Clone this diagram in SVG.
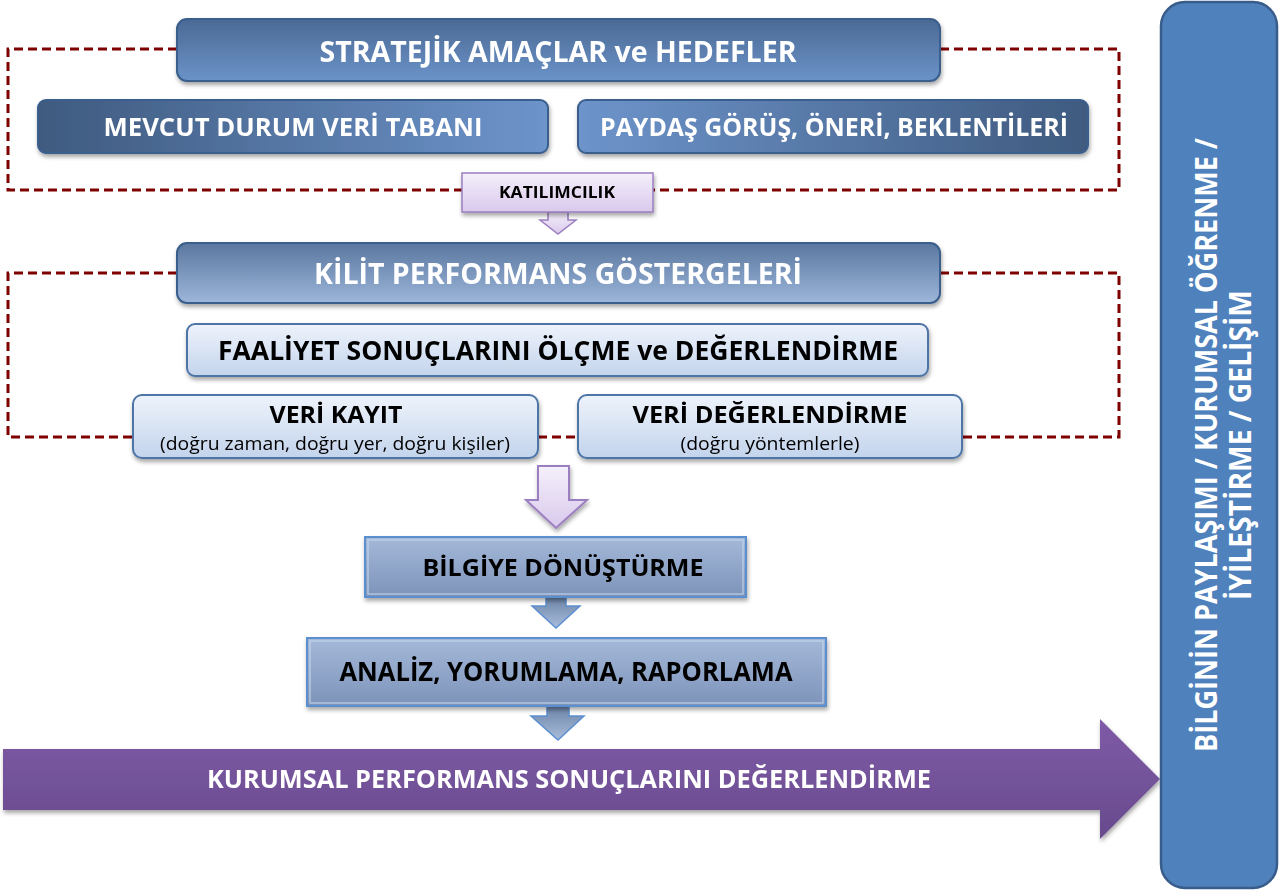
<svg xmlns="http://www.w3.org/2000/svg" width="1280" height="895" viewBox="0 0 1280 895">
<defs>
<linearGradient id="gTop" x1="0" y1="0" x2="0" y2="1"><stop offset="0" stop-color="#4b6994"/><stop offset="1" stop-color="#6b93c9"/></linearGradient>
<linearGradient id="gKpi" x1="0" y1="0" x2="0" y2="1"><stop offset="0" stop-color="#5a779f"/><stop offset="1" stop-color="#9db6da"/></linearGradient>
<linearGradient id="gLR" x1="0" y1="0" x2="1" y2="0"><stop offset="0" stop-color="#3f5a7f"/><stop offset="1" stop-color="#6d94cb"/></linearGradient>
<linearGradient id="gRL" x1="0" y1="0" x2="1" y2="0"><stop offset="0" stop-color="#6d94cb"/><stop offset="1" stop-color="#3f5a7f"/></linearGradient>
<linearGradient id="gLight" x1="0" y1="0" x2="0" y2="1"><stop offset="0" stop-color="#eef3fb"/><stop offset="1" stop-color="#c3d4ec"/></linearGradient>
<linearGradient id="gLav" x1="0" y1="0" x2="0" y2="1"><stop offset="0" stop-color="#f5f0fb"/><stop offset="1" stop-color="#d9c9ec"/></linearGradient>
<linearGradient id="gBevel" x1="0" y1="0" x2="0" y2="1"><stop offset="0" stop-color="#a4b9d9"/><stop offset="1" stop-color="#7d93b9"/></linearGradient>
<linearGradient id="gSmall" x1="0" y1="0" x2="0" y2="1"><stop offset="0" stop-color="#6c84a8"/><stop offset="1" stop-color="#a9bddb"/></linearGradient>
<linearGradient id="gBig" x1="0" y1="0" x2="0" y2="1"><stop offset="0" stop-color="#7f5ba7"/><stop offset="1" stop-color="#684a8d"/></linearGradient>
<filter id="sh" x="-5%" y="-20%" width="110%" height="150%"><feDropShadow dx="1" dy="3" stdDeviation="2" flood-color="#000" flood-opacity="0.35"/></filter>
</defs>
<style>
.w{fill:#fff;font-family:"Liberation Sans Narrow","Open Sans","Liberation Sans",sans-serif;font-weight:bold;text-anchor:middle}
.k{fill:#000;font-family:"Open Sans","Liberation Sans",sans-serif;font-weight:bold;text-anchor:middle}
.n{fill:#000;font-family:"Open Sans","Liberation Sans",sans-serif;text-anchor:middle}
.dash{fill:none;stroke:#7f0000;stroke-width:3;stroke-dasharray:9 5}
.bx{stroke:#3a5e8c;stroke-width:2}
.bl{stroke:#4d74a6;stroke-width:2}
</style>
<g id="connectors">
<path class="dash" d="M177,49 H8 V190 H462"/>
<path class="dash" d="M940,49 H1119 V190 H653"/>
<path class="dash" d="M177,273 H8 V437 H133"/>
<path class="dash" d="M940,273 H1119 V437 H962"/>
<path class="dash" d="M538,437 H578"/>
<path d="M548,212 H568 V220 H576 L558,234 L540,220 H548 Z" fill="url(#gLav)" stroke="#9b7fc0" stroke-width="1.5"/>
<path d="M538,466 H569 V500 H587 L556,528 L526,500 H538 Z" fill="url(#gLav)" stroke="#9b7fc0" stroke-width="2" filter="url(#sh)"/>
<path d="M546,597 H566 V606 H580 L556,628 L532,606 H546 Z" fill="url(#gSmall)" stroke="#5b8fd0" stroke-width="1.5"/>
<path d="M547,706 H569 V716 H584 L558,740 L531,716 H547 Z" fill="url(#gSmall)" stroke="#5b8fd0" stroke-width="1.5"/>
</g>
<g id="n-strat" filter="url(#sh)"><rect class="bx" x="177" y="19" width="763" height="62" rx="10" fill="url(#gTop)"/><text class="w" x="558" y="62" font-size="29" textLength="477" lengthAdjust="spacingAndGlyphs">STRATEJİK AMAÇLAR ve HEDEFLER</text></g>
<g id="n-mevcut" filter="url(#sh)"><rect class="bx" x="38" y="100" width="510" height="53" rx="8" fill="url(#gLR)"/><text class="w" x="293" y="136" font-size="25" textLength="379" lengthAdjust="spacingAndGlyphs">MEVCUT DURUM VERİ TABANI</text></g>
<g id="n-paydas" filter="url(#sh)"><rect class="bx" x="578" y="100" width="510" height="53" rx="8" fill="url(#gRL)"/><text class="w" x="834" y="136" font-size="25" textLength="468" lengthAdjust="spacingAndGlyphs">PAYDAŞ GÖRÜŞ, ÖNERİ, BEKLENTİLERİ</text></g>
<g id="n-katilim" filter="url(#sh)"><rect x="462" y="173" width="191" height="39" fill="url(#gLav)" stroke="#9b7fc0" stroke-width="1.5"/><text class="k" x="557" y="198" font-size="16" textLength="116" lengthAdjust="spacingAndGlyphs" fill="#222">KATILIMCILIK</text></g>
<g id="n-kpi" filter="url(#sh)"><rect class="bx" x="177" y="243" width="763" height="60" rx="10" fill="url(#gKpi)"/><text class="w" x="558" y="284" font-size="29" textLength="488" lengthAdjust="spacingAndGlyphs">KİLİT PERFORMANS GÖSTERGELERİ</text></g>
<g id="n-faaliyet" filter="url(#sh)"><rect class="bl" x="187" y="324" width="741" height="52" rx="8" fill="url(#gLight)"/><text class="k" x="558" y="360" font-size="26" textLength="680" lengthAdjust="spacingAndGlyphs">FAALİYET SONUÇLARINI ÖLÇME ve DEĞERLENDİRME</text></g>
<g id="n-kayit" filter="url(#sh)"><rect class="bl" x="133" y="395" width="405" height="63" rx="9" fill="url(#gLight)"/><text class="k" x="336" y="423" font-size="24" textLength="133" lengthAdjust="spacingAndGlyphs">VERİ KAYIT</text><text class="n" x="335" y="450" font-size="18" textLength="350" lengthAdjust="spacingAndGlyphs">(doğru zaman, doğru yer, doğru kişiler)</text></g>
<g id="n-degerlendirme" filter="url(#sh)"><rect class="bl" x="578" y="395" width="384" height="63" rx="9" fill="url(#gLight)"/><text class="k" x="770" y="423" font-size="24" textLength="275" lengthAdjust="spacingAndGlyphs">VERİ DEĞERLENDİRME</text><text class="n" x="770" y="450" font-size="18" textLength="179" lengthAdjust="spacingAndGlyphs">(doğru yöntemlerle)</text></g>
<g id="n-bilgi" filter="url(#sh)"><rect x="365" y="537" width="381" height="60" fill="url(#gBevel)" stroke="#5b8fd0" stroke-width="2"/><rect x="368" y="540" width="375" height="54" fill="none" stroke="#c8d8ee" stroke-width="1.5" opacity="0.7"/><text class="k" x="563" y="576" font-size="24" textLength="281" lengthAdjust="spacingAndGlyphs">BİLGİYE DÖNÜŞTÜRME</text></g>
<g id="n-analiz" filter="url(#sh)"><rect x="307" y="638" width="519" height="68" fill="url(#gBevel)" stroke="#5b8fd0" stroke-width="2"/><rect x="310" y="641" width="513" height="62" fill="none" stroke="#c8d8ee" stroke-width="1.5" opacity="0.7"/><text class="k" x="566" y="681" font-size="26" textLength="453" lengthAdjust="spacingAndGlyphs">ANALİZ, YORUMLAMA, RAPORLAMA</text></g>
<g id="n-kurumsal" filter="url(#sh)"><path d="M3,749 H1100 V719 L1160,779 L1100,839 V810 H3 Z" fill="url(#gBig)"/><text class="w" x="569" y="788" font-size="25" textLength="724" lengthAdjust="spacingAndGlyphs">KURUMSAL PERFORMANS SONUÇLARINI DEĞERLENDİRME</text></g>
<g id="n-bilginin"><rect x="1161" y="2" width="116" height="886" rx="24" fill="#4f81bd" stroke="#385d8a" stroke-width="2.5"/><text class="w" transform="translate(1217,445) rotate(-90)" font-size="30" textLength="614" lengthAdjust="spacingAndGlyphs">BİLGİNİN PAYLAŞIMI / KURUMSAL ÖĞRENME /</text><text class="w" transform="translate(1251,445) rotate(-90)" font-size="30" textLength="310" lengthAdjust="spacingAndGlyphs">İYİLEŞTİRME / GELİŞİM</text></g>
</svg>
